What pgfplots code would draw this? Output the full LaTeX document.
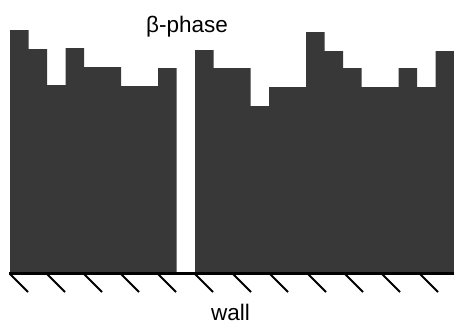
\documentclass[border=0pt]{standalone}
\usepackage{fontspec}
\setmainfont{Liberation Sans}
\usepackage{pgfplots}
\pgfplotsset{compat=1.18}
\definecolor{bargray}{gray}{0.22}
\begin{document}
\begin{tikzpicture}
\begin{axis}[
  width=454pt, height=325pt, scale only axis,
  xmin=0, xmax=454, ymin=-53, ymax=272,
  hide axis, clip=false,
  unbounded coords=jump,
  name=main,
]
\addplot[ybar interval=1, fill=bargray, draw=none] coordinates {
(10,242) (28.5,223) (47,187) (65.5,224) (84,205) (102.5,205) (121,186) (139.5,186)
(158,204) (176.5,0) (195,222) (213.5,204) (232,204) (250.5,166) (269,185) (287.5,185)
(306,240) (324.5,221) (343,204) (361.5,185) (380,185) (398.5,204) (417,185) (435.5,221)
(454,221)
};
\addplot[black, line width=3pt, line cap=butt] coordinates {(9,-1.2) (454,-1.2)};
\addplot[black, line width=2pt] coordinates {
(10,-2) (28,-20) (nan,nan)
(47,-2) (65,-20) (nan,nan)
(84,-2) (102,-20) (nan,nan)
(121,-2) (139,-20) (nan,nan)
(158,-2) (176,-20) (nan,nan)
(195,-2) (213,-20) (nan,nan)
(233,-2) (251,-20) (nan,nan)
(270,-2) (288,-20) (nan,nan)
(308,-2) (326,-20) (nan,nan)
(345,-2) (363,-20) (nan,nan)
(382,-2) (400,-20) (nan,nan)
(420,-2) (438,-20)
};
\node[anchor=base, font=\fontsize{22.5}{26}\selectfont, inner sep=0pt] at (axis cs:187,240) {β-phase};
\node[anchor=base, font=\fontsize{22.5}{26}\selectfont, inner sep=0pt] at (axis cs:230.5,-48.5) {wall};
\end{axis}
\pgfresetboundingbox
\useasboundingbox (main.south west) rectangle (main.north east);
\end{tikzpicture}
\end{document}
